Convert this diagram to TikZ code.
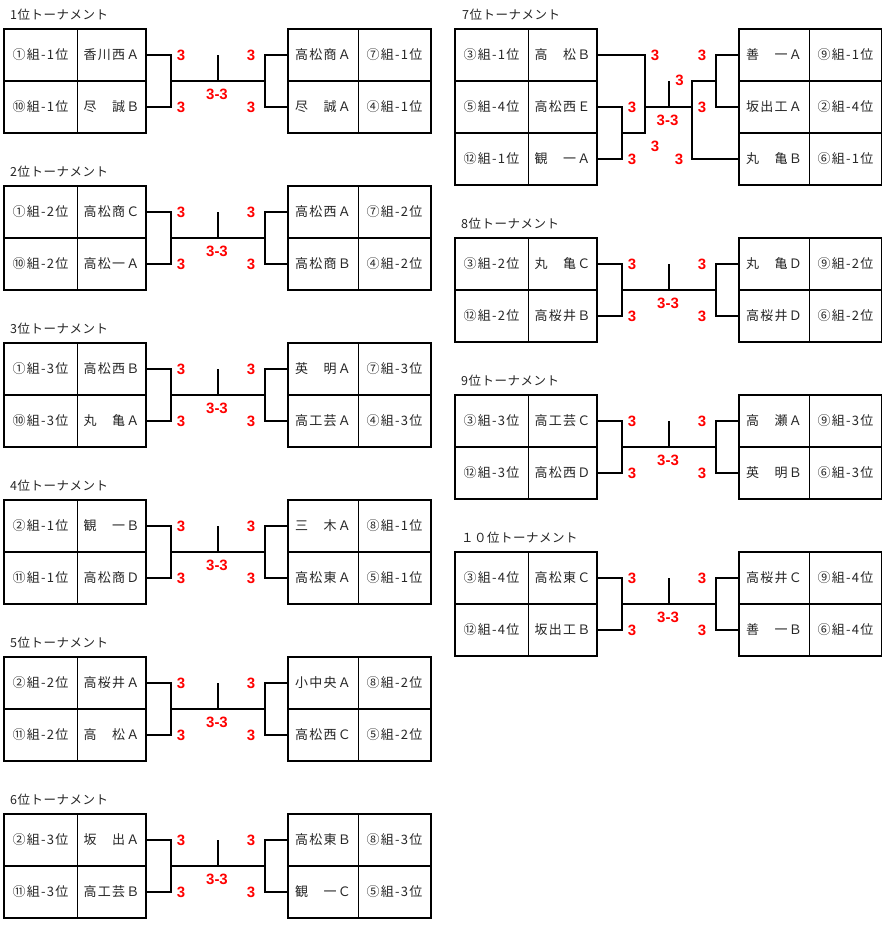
\documentclass[tikz,border=0pt]{standalone}
\usepackage{fontspec}
\usetikzlibrary{calc}
\newfontfamily\jpf[LetterSpace=10]{Noto Sans CJK JP}
\newfontfamily\jpt[LetterSpace=4]{Noto Sans CJK JP}
\newfontfamily\scf{Liberation Sans}
\newcommand\teams[8]{\def\GA{#1}\def\TA{#2}\def\GB{#3}\def\TB{#4}\def\TC{#5}\def\GC{#6}\def\TD{#7}\def\GD{#8}}
\newcommand\twoblock[5]{%
  \node[ttl,anchor=west] (#1title) at (#2+6,#4-14) {#5};
  \node[gcell,anchor=north west] (#1ga) at (#2,#4) {\GA};
  \node[tcell,anchor=north west] (#1ta) at (#1ga.north east) {\TA};
  \node[gcell,anchor=north west] (#1gb) at (#1ga.south west) {\GB};
  \node[tcell,anchor=north west] (#1tb) at (#1gb.north east) {\TB};
  \node[rtcell,anchor=north west] (#1tc) at (#3,#4) {\TC};
  \node[rgcell,anchor=north west] (#1gc) at (#1tc.north east) {\GC};
  \node[rtcell,anchor=north west] (#1td) at (#1tc.south west) {\TD};
  \node[rgcell,anchor=north west] (#1gd) at (#1td.north east) {\GD};
  \draw[frame] (#1ga.north west) rectangle (#1tb.south east);
  \draw[rowline] (#1ga.south west) -- (#1ta.south east);
  \draw[colline] (#1ga.north east) -- (#1gb.south east);
  \draw[frame] (#1tc.north west) rectangle (#1gd.south east);
  \draw[rowline] (#1tc.south west) -- (#1gc.south east);
  \draw[colline] (#1tc.north east) -- (#1td.south east);
  \draw[bline] (#1ta.east) -- ++(25,0) |- (#1tb.east);
  \draw[bline] (#1tc.west) -- ++(-23,0) |- (#1td.west);
  \coordinate (#1L) at ($(#1ta.east)!0.5!(#1tb.east)+(25,0)$);
  \coordinate (#1R) at ($(#1tc.west)!0.5!(#1td.west)+(-23,0)$);
  \coordinate (#1M) at ($(#1L)!0.5!(#1R)$);
  \draw[bline] (#1L) -- (#1R);
  \draw[bline] (#1M) -- ++(0,-26);
  \node[score] (#1sa) at ($(#1ta.east)+(35,0)$) {3};
  \node[score] (#1sb) at ($(#1tb.east)+(35,0)$) {3};
  \node[score] (#1sc) at ($(#1tc.west)+(-37,0)$) {3};
  \node[score] (#1sd) at ($(#1td.west)+(-37,0)$) {3};
  \node[score] (#1sm) at ($(#1M)+(-1,13)$) {3-3};
}
\begin{document}
\begin{tikzpicture}[x=1pt,y=-1pt,
  cellbase/.style={minimum height=52pt,inner sep=0pt,outer sep=0pt,
    font=\jpf\fontsize{13}{13}\selectfont,text=black!85},
  gcell/.style={cellbase,minimum width=73pt},
  tcell/.style={cellbase,minimum width=69pt},
  rtcell/.style={cellbase,minimum width=70pt},
  rgcell/.style={cellbase,minimum width=73pt},
  ttl/.style={inner sep=0pt,font=\jpt\fontsize{12.5}{13}\selectfont,text=black!85},
  frame/.style={line width=2pt,black},
  rowline/.style={line width=1.6pt,black},
  colline/.style={line width=1pt,black},
  bline/.style={line width=2pt,black},
  score/.style={inner sep=0pt,font=\scf\bfseries\fontsize{15}{15}\selectfont,text=red}]
\useasboundingbox (0,0) rectangle (881,931);
\fill[white] (0,0) rectangle (881,931);

% left column
\teams{①組-1位}{香川西Ａ}{⑩組-1位}{尽　誠Ｂ}{高松商Ａ}{⑦組-1位}{尽　誠Ａ}{④組-1位}
\twoblock{pa}{4}{288}{29}{1位トーナメント}
\teams{①組-2位}{高松商Ｃ}{⑩組-2位}{高松一Ａ}{高松西Ａ}{⑦組-2位}{高松商Ｂ}{④組-2位}
\twoblock{pb}{4}{288}{186}{2位トーナメント}
\teams{①組-3位}{高松西Ｂ}{⑩組-3位}{丸　亀Ａ}{英　明Ａ}{⑦組-3位}{高工芸Ａ}{④組-3位}
\twoblock{pc}{4}{288}{343}{3位トーナメント}
\teams{②組-1位}{観　一Ｂ}{⑪組-1位}{高松商Ｄ}{三　木Ａ}{⑧組-1位}{高松東Ａ}{⑤組-1位}
\twoblock{pd}{4}{288}{500}{4位トーナメント}
\teams{②組-2位}{高桜井Ａ}{⑪組-2位}{高　松Ａ}{小中央Ａ}{⑧組-2位}{高松西Ｃ}{⑤組-2位}
\twoblock{pe}{4}{288}{657}{5位トーナメント}
\teams{②組-3位}{坂　出Ａ}{⑪組-3位}{高工芸Ｂ}{高松東Ｂ}{⑧組-3位}{観　一Ｃ}{⑤組-3位}
\twoblock{pf}{4}{288}{814}{6位トーナメント}

% right column
\teams{③組-2位}{丸　亀Ｃ}{⑫組-2位}{高桜井Ｂ}{丸　亀Ｄ}{⑨組-2位}{高桜井Ｄ}{⑥組-2位}
\twoblock{ph}{455}{739}{238}{8位トーナメント}
\teams{③組-3位}{高工芸Ｃ}{⑫組-3位}{高松西Ｄ}{高　瀬Ａ}{⑨組-3位}{英　明Ｂ}{⑥組-3位}
\twoblock{pi}{455}{739}{395}{9位トーナメント}
\teams{③組-4位}{高松東Ｃ}{⑫組-4位}{坂出工Ｂ}{高桜井Ｃ}{⑨組-4位}{善　一Ｂ}{⑥組-4位}
\twoblock{pj}{455}{739}{552}{１０位トーナメント}

% 7th place (three teams per side)
\node[ttl,anchor=west] (gtitle) at (462,15) {7位トーナメント};
\node[gcell,anchor=north west] (gg1) at (455,29) {③組-1位};
\node[tcell,anchor=north west] (gt1) at (gg1.north east) {高　松Ｂ};
\node[gcell,anchor=north west] (gg2) at (gg1.south west) {⑤組-4位};
\node[tcell,anchor=north west] (gt2) at (gg2.north east) {高松西Ｅ};
\node[gcell,anchor=north west] (gg3) at (gg2.south west) {⑫組-1位};
\node[tcell,anchor=north west] (gt3) at (gg3.north east) {観　一Ａ};
\node[rtcell,anchor=north west] (gt4) at (739,29) {善　一Ａ};
\node[rgcell,anchor=north west] (gg4) at (gt4.north east) {⑨組-1位};
\node[rtcell,anchor=north west] (gt5) at (gt4.south west) {坂出工Ａ};
\node[rgcell,anchor=north west] (gg5) at (gt5.north east) {②組-4位};
\node[rtcell,anchor=north west] (gt6) at (gt5.south west) {丸　亀Ｂ};
\node[rgcell,anchor=north west] (gg6) at (gt6.north east) {⑥組-1位};
\draw[frame] (gg1.north west) rectangle (gt3.south east);
\draw[rowline] (gg1.south west) -- (gt1.south east);
\draw[rowline] (gg2.south west) -- (gt2.south east);
\draw[colline] (gg1.north east) -- (gg3.south east);
\draw[frame] (gt4.north west) rectangle (gg6.south east);
\draw[rowline] (gt4.south west) -- (gg4.south east);
\draw[rowline] (gt5.south west) -- (gg5.south east);
\draw[colline] (gt4.north east) -- (gt6.south east);
% left brackets
\draw[bline] (gt2.east) -- ++(25,0) |- (gt3.east);
\coordinate (gsub) at ($(gt2.east)!0.5!(gt3.east)+(25,0)$);
\coordinate (gL) at ($(gt1.east)+(48,0)$);
\draw[bline] (gt1.east) -- (gL) -- (gL |- gsub) -- (gsub);
% right brackets
\draw[bline] (gt4.west) -- ++(-23,0) |- (gt5.west);
\coordinate (gRs) at ($(gt4.west)!0.5!(gt5.west)+(-23,0)$);
\coordinate (gR) at ($(gt6.west)+(-47,0)$);
\draw[bline] (gt6.west) -- (gR) -- (gR |- gRs) -- (gRs);
% centre
\draw[bline] (gL |- gt2.east) -- (gR |- gt2.east);
\coordinate (gM) at ($(gL |- gt2.east)!0.5!(gR |- gt2.east)$);
\draw[bline] (gM) -- ++(0,-26);
\node[score] (gs1) at ($(gt1.east)+(58,0)$) {3};
\node[score] (gs2) at ($(gt4.west)+(-37,0)$) {3};
\node[score] (gs3) at ($(gM)+(11,-27)$) {3};
\node[score] (gs4) at ($(gt2.east)+(35,0)$) {3};
\node[score] (gs5) at ($(gM)+(-1,13)$) {3-3};
\node[score] (gs6) at ($(gt5.west)+(-37,0)$) {3};
\node[score] (gs7) at ($(gt3.east)+(58,-13)$) {3};
\node[score] (gs8) at ($(gt3.east)+(35,0)$) {3};
\node[score] (gs9) at ($(gt6.west)+(-60,0)$) {3};
\end{tikzpicture}
\end{document}
